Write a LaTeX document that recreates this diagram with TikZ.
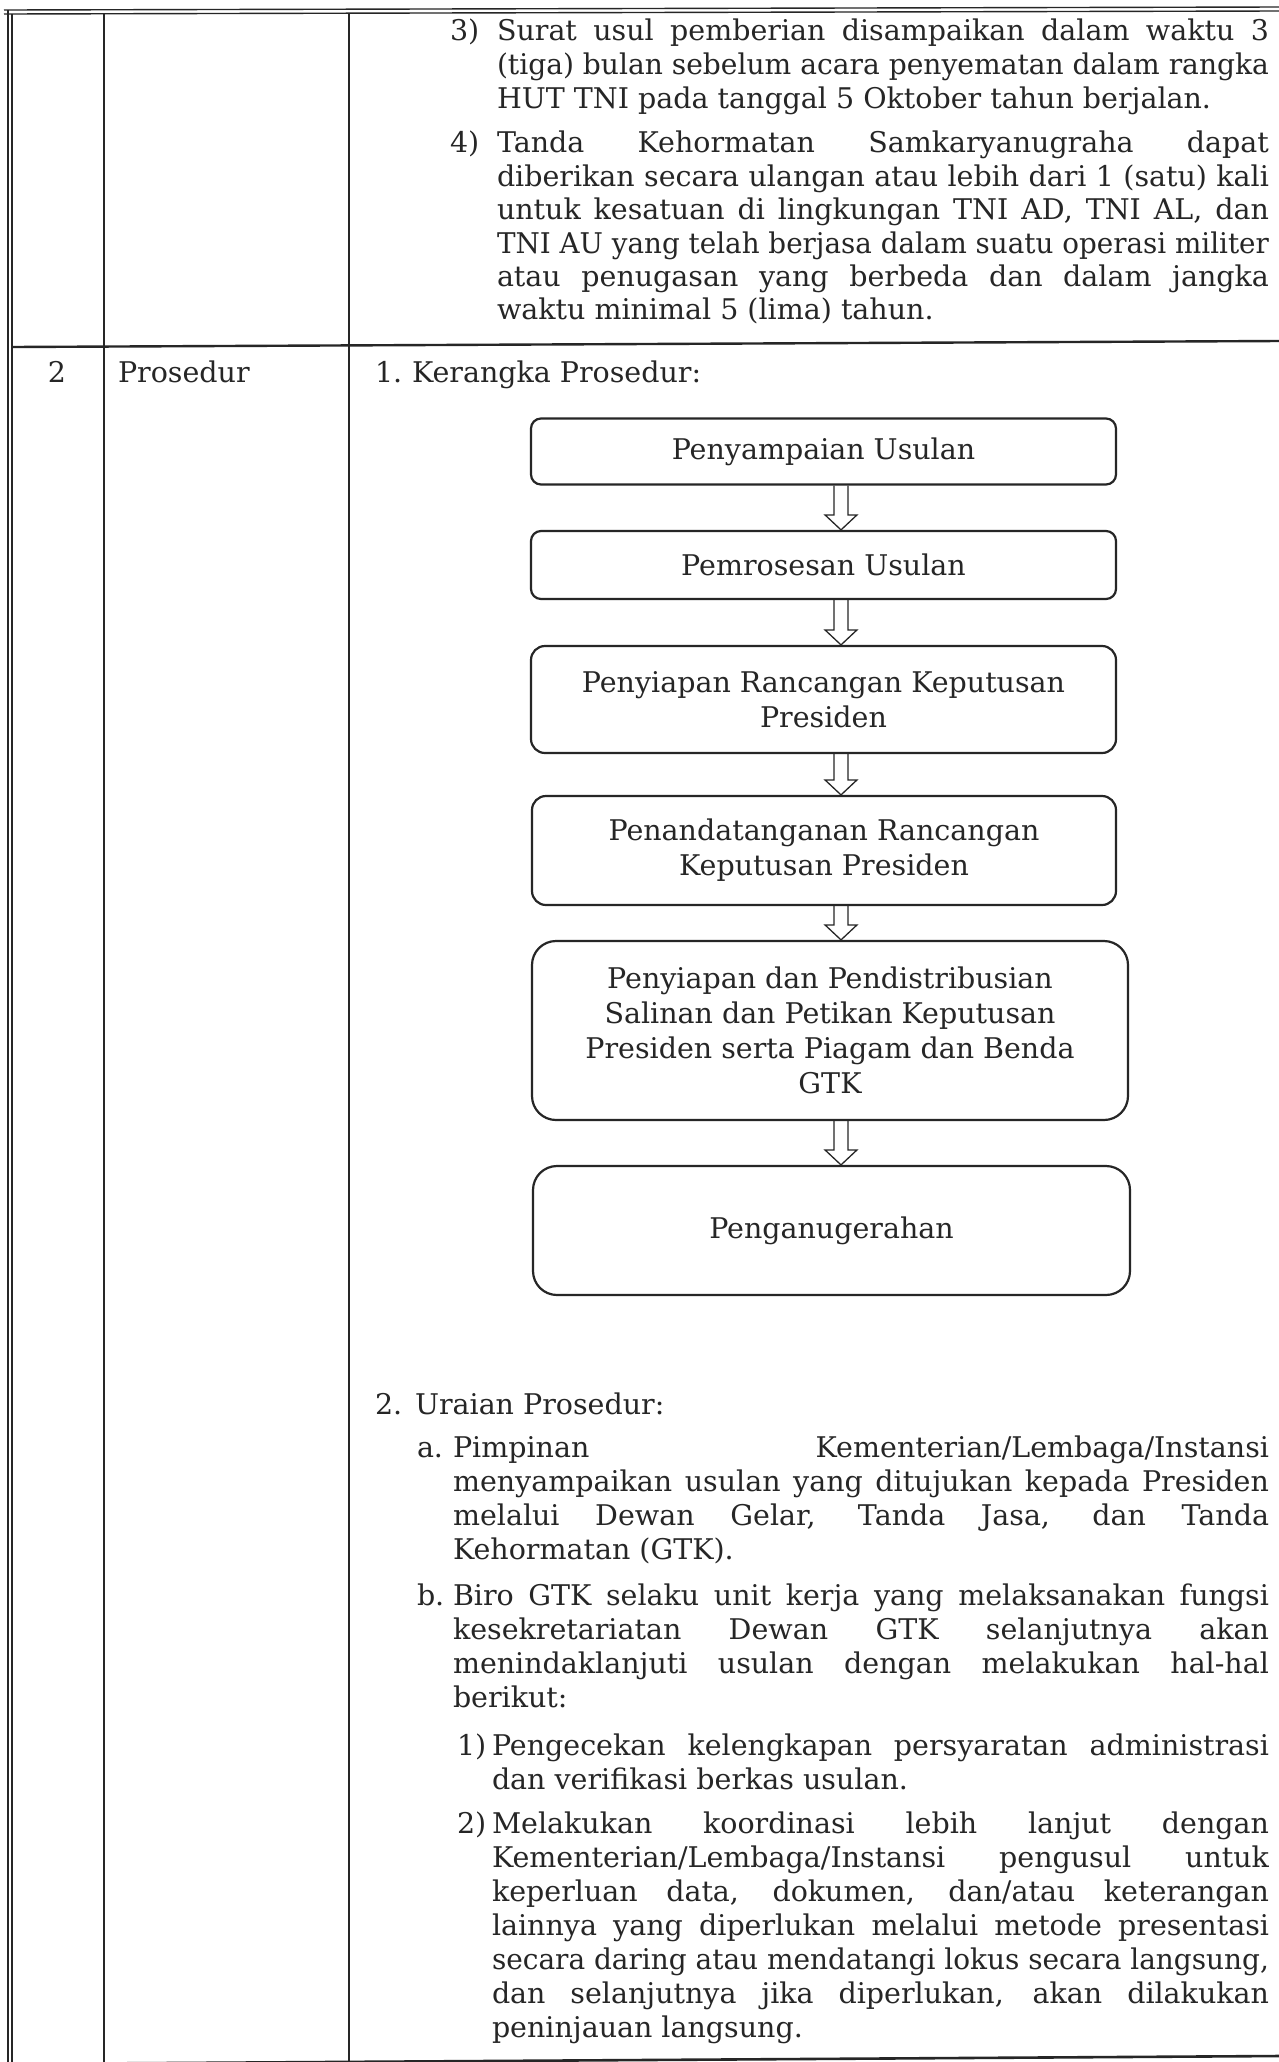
\documentclass[tikz,border=0pt]{standalone}
\usepackage{fontspec}
\usepackage{graphicx}
\setmainfont{DejaVu Serif}
\usetikzlibrary{calc}
\definecolor{ink}{HTML}{262626}
\newsavebox\fitbox
\newcommand\fitline[2]{\sbox\fitbox{#2}\ifdim\wd\fitbox>#1\relax\resizebox{#1}{\height}{\usebox\fitbox}\else\makebox[#1][s]{#2}\fi}
\newcommand\JL[5]{\node[txt] (#1) at (#2,#3) {\fitline{#4pt}{#5}};}
\newcommand\LL[4]{\node[txt] (#1) at (#2,#3) {#4};}
\newcommand\harrow[2]{\draw[harr] ($(ax |- #1.south)+(-7,0)$) -- ($(ax |- #2.north)+(-7,-15)$) -- ($(ax |- #2.north)+(-16,-15)$) -- (ax |- #2.north) -- ($(ax |- #2.north)+(16,-15)$) -- ($(ax |- #2.north)+(7,-15)$) -- ($(ax |- #1.south)+(7,0)$);}
\begin{document}
\begin{tikzpicture}[x=1pt,y=-1pt,
  txt/.style={inner sep=0pt, outer sep=0pt, anchor=base west, text=ink, font=\fontsize{28.5}{34}\selectfont},
  box/.style={draw=ink, line width=2.2pt, align=center, text=ink, inner sep=0pt, font=\fontsize{28.5}{35}\selectfont},
  harr/.style={draw=ink, line width=1.3pt, line join=miter},
  rule/.style={draw=ink, line width=1.4pt}]
\useasboundingbox (0,0) rectangle (1279,2062);
\fill[white] (0,0) rectangle (1279,2062);
% table rules
\draw[rule] (4,10) -- (1279,7);
\draw[rule] (4,14) -- (1279,11);
\draw[rule] (8,10) -- (8,2062);
\draw[rule] (12,14) -- (12,2062);
\draw[rule] (104,14) -- (104,2062);
\draw[rule] (349,14) -- (349,2062);
\draw[rule, line width=2.4pt] (12,347) -- (1279,341);
\draw[rule, line width=2.6pt] (12,2064) -- (1279,2056);
% upper row, items 3) and 4)
\LL{i3}{450}{40}{3)}
\JL{t31}{497}{40}{772}{Surat usul pemberian disampaikan dalam waktu 3}
\JL{t32}{497}{74}{772}{(tiga) bulan sebelum acara penyematan dalam rangka}
\LL{t33}{497}{108}{HUT TNI pada tanggal 5 Oktober tahun berjalan.}
\LL{i4}{450}{152}{4)}
\JL{t41}{497}{152}{772}{Tanda Kehormatan Samkaryanugraha dapat}
\JL{t42}{497}{186}{772}{diberikan secara ulangan atau lebih dari 1 (satu) kali}
\JL{t43}{497}{219}{772}{untuk kesatuan di lingkungan TNI AD, TNI AL, dan}
\JL{t44}{497}{253}{772}{TNI AU yang telah berjasa dalam suatu operasi militer}
\JL{t45}{497}{286}{772}{atau penugasan yang berbeda dan dalam jangka}
\LL{t46}{497}{319}{waktu minimal 5 (lima) tahun.}
% second row
\node[txt, anchor=base] (no2) at (57,382) {2};
\LL{pros}{118}{382}{Prosedur}
\LL{k1}{375}{382}{1.}
\LL{k2}{412}{382}{Kerangka Prosedur:}
% flowchart
\coordinate (ax) at (841,0);
\node[box, minimum width=585, minimum height=66, rounded corners=10] (b1) at (823.5,451.5) {Penyampaian Usulan};
\node[box, minimum width=585, minimum height=68, rounded corners=10] (b2) at (823.5,565) {Pemrosesan Usulan};
\node[box, minimum width=585, minimum height=107, rounded corners=14] (b3) at (823.5,699.5) {Penyiapan Rancangan Keputusan\\Presiden};
\node[box, minimum width=584, minimum height=109, rounded corners=14] (b4) at (824,850.5) {Penandatanganan Rancangan\\Keputusan Presiden};
\node[box, minimum width=596, minimum height=179, rounded corners=24] (b5) at (830,1030.5) {Penyiapan dan Pendistribusian\\Salinan dan Petikan Keputusan\\Presiden serta Piagam dan Benda\\GTK};
\node[box, minimum width=597, minimum height=129, rounded corners=24] (b6) at (831.5,1230.5) {Penganugerahan};
\harrow{b1}{b2}
\harrow{b2}{b3}
\harrow{b3}{b4}
\harrow{b4}{b5}
\harrow{b5}{b6}
% uraian
\LL{u1}{375}{1414}{2.}
\LL{u2}{415}{1414}{Uraian Prosedur:}
\LL{ia}{417}{1457}{a.}
\JL{a1}{453}{1457}{816}{Pimpinan Kementerian/Lembaga/Instansi}
\JL{a2}{453}{1491}{816}{menyampaikan usulan yang ditujukan kepada Presiden}
\JL{a3}{453}{1525}{816}{melalui Dewan Gelar, Tanda Jasa, dan Tanda}
\LL{a4}{453}{1559}{Kehormatan (GTK).}
\LL{ib}{417}{1605}{b.}
\JL{b1t}{453}{1605}{816}{Biro GTK selaku unit kerja yang melaksanakan fungsi}
\JL{b2t}{453}{1639}{816}{kesekretariatan Dewan GTK selanjutnya akan}
\JL{b3t}{453}{1673}{816}{menindaklanjuti usulan dengan melakukan hal-hal}
\LL{b4t}{453}{1707}{berikut:}
\LL{i1}{457}{1755}{1)}
\JL{c1}{492}{1755}{777}{Pengecekan kelengkapan persyaratan administrasi}
\LL{c2}{492}{1789}{dan verifikasi berkas usulan.}
\LL{i2}{457}{1833}{2)}
\JL{d1}{492}{1833}{777}{Melakukan koordinasi lebih lanjut dengan}
\JL{d2}{492}{1867}{777}{Kementerian/Lembaga/Instansi pengusul untuk}
\JL{d3}{492}{1901}{777}{keperluan data, dokumen, dan/atau keterangan}
\JL{d4}{492}{1935}{777}{lainnya yang diperlukan melalui metode presentasi}
\JL{d5}{492}{1969}{777}{secara daring atau mendatangi lokus secara langsung,}
\JL{d6}{492}{2003}{777}{dan selanjutnya jika diperlukan, akan dilakukan}
\LL{d7}{492}{2037}{peninjauan langsung.}
\end{tikzpicture}
\end{document}
